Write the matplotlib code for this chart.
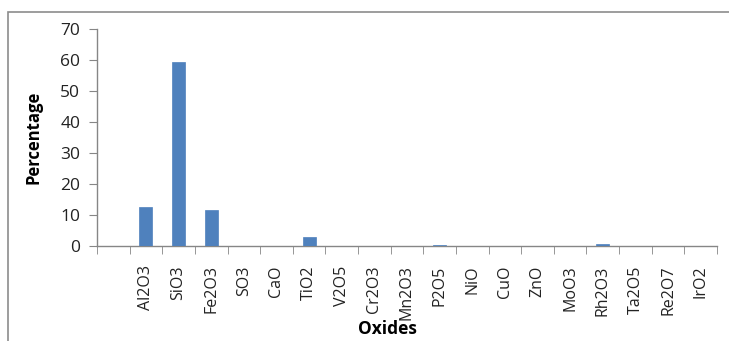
import matplotlib
matplotlib.use("Agg")
import matplotlib.pyplot as plt
from matplotlib.patches import Rectangle
import numpy as np

categories = ["", "Al2O3", "SiO3", "Fe2O3", "SO3", "CaO", "TiO2", "V2O5", "Cr2O3",
              "Mn2O3", "P2O5", "NiO", "CuO", "ZnO", "MoO3", "Rh2O3", "Ta2O5",
              "Re2O7", "IrO2"]
values = [0, 12.7, 59.3, 11.6, 0, 0, 2.9, 0, 0, 0, 0.3, 0, 0, 0, 0, 0.7, 0, 0, 0]
yticks = [0, 10, 20, 30, 40, 50, 60, 70]

plt.rcParams['font.family'] = ['Open Sans', 'DejaVu Sans']

W, H = 729, 341
fig = plt.figure(figsize=(W / 100, H / 100), dpi=100)
ax = fig.add_axes([97 / W, 1 - 246 / H, (717 - 97) / W, (246 - 29) / H])

axis_color = "#868686"
x = np.arange(len(categories))
ax.bar(x, values, width=0.4, color="#4F81BD", edgecolor="#4F81BD", linewidth=0.5, zorder=3)

ax.set_xlim(-0.5, len(categories) - 0.5)
ax.set_ylim(0, 70)
ax.set_yticks(yticks)
ax.set_yticklabels([str(t) for t in yticks], fontsize=12.5, color="#222222")
ax.set_xticks(x)
ax.set_xticklabels(categories, rotation=90, fontsize=11.5, color="#222222")
ax.tick_params(axis="x", which="major", length=0, pad=14)
ax.set_xticks(np.arange(-0.5, len(categories), 1), minor=True)
ax.tick_params(axis="x", which="minor", length=6, color=axis_color, direction="out")
ax.tick_params(axis="y", length=6, color=axis_color, direction="out", pad=6)

for s in ["top", "right"]:
    ax.spines[s].set_visible(False)
for s in ["left", "bottom"]:
    ax.spines[s].set_color(axis_color)
    ax.spines[s].set_linewidth(1)

ax.set_ylabel("Percentage", fontsize=12, fontweight="bold", labelpad=13)
ax.set_xlabel("Oxides", fontsize=12.5, fontweight="bold", labelpad=0)
ax.xaxis.label.set_x((387 - 97) / (717 - 97))

fig.patches.append(Rectangle((8 / W, -0.1), 1.2, 1.1 - 12 / H, transform=fig.transFigure,
                             fill=False, edgecolor="#8c8c8c", linewidth=1.2))

fig.savefig("out.png", dpi=100, facecolor="white")
